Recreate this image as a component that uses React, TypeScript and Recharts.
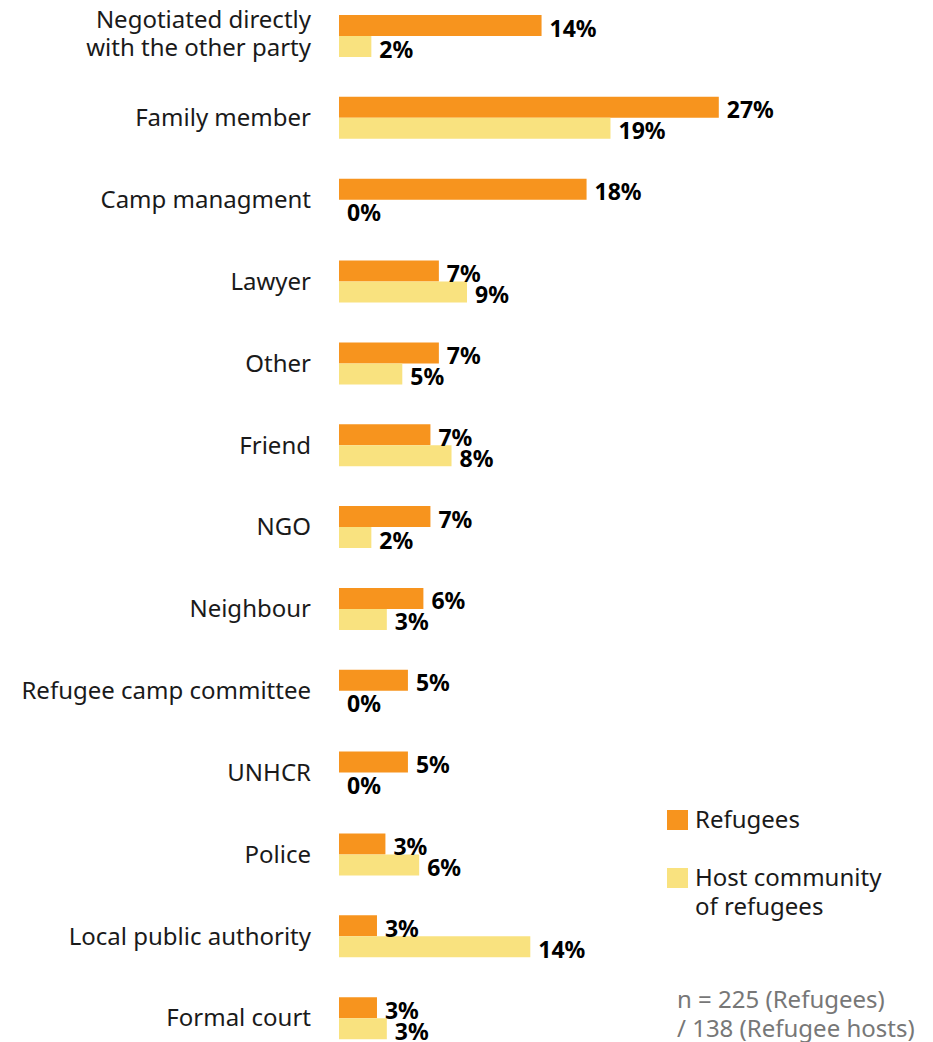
import React from "react";
import { BarChart, Bar, XAxis, YAxis } from "recharts";

// Who helped resolve the dispute, share of respondents (%)
const categories = [
  "Negotiated directly\nwith the other party",
  "Family member",
  "Camp managment",
  "Lawyer",
  "Other",
  "Friend",
  "NGO",
  "Neighbour",
  "Refugee camp committee",
  "UNHCR",
  "Police",
  "Local public authority",
  "Formal court",
];
const refugees = [14.4, 27.0, 17.6, 7.1, 7.1, 6.5, 6.5, 6.0, 4.9, 4.9, 3.3, 2.7, 2.7];
const hosts = [2.3, 19.3, 0, 9.1, 4.5, 8.0, 2.3, 3.4, 0, 0, 5.7, 13.6, 3.4];

const ORANGE = "#F7941E";
const YELLOW = "#F9E27F";
const FONT = "'Noto Sans', 'Open Sans', sans-serif";

const data = categories.map((name, i) => ({
  name,
  refugees: refugees[i],
  hosts: hosts[i],
}));

const CategoryTick = (props: any) => {
  const { x, y, payload } = props;
  const lines = String(payload.value).split("\n");
  const lh = 28;
  const start = y - ((lines.length - 1) * lh) / 2 - (lines.length > 1 ? 2 : 0);
  return (
    <text x={x} y={start} textAnchor="end" fontFamily={FONT} fontSize={24} fill="#1a1a1a">
      {lines.map((l, i) => (
        <tspan key={i} x={x} y={start + i * lh} dy="0.35em">
          {l}
        </tspan>
      ))}
    </text>
  );
};

const ValueLabel = (props: any) => {
  const { x, y, width, height, value } = props;
  const vb = props.viewBox || {};
  const bx = Number(x ?? vb.x ?? 0);
  const by = Number(y ?? vb.y ?? 0);
  const bw = Number(width ?? vb.width ?? 0);
  const bh = Number(height ?? vb.height ?? 0);
  return (
    <text
      x={bx + Math.max(bw, 0) + 8}
      y={by + bh / 2 + 2}
      dominantBaseline="central"
      fontFamily={FONT}
      fontSize={23}
      fontWeight={700}
      fill="#000"
    >
      {`${Math.round(Number(value))}%`}
    </text>
  );
};

const legendItems = [
  { color: ORANGE, lines: ["Refugees"] },
  { color: YELLOW, lines: ["Host community", "of refugees"] },
];

export default function App() {
  return (
    <div style={{ position: "absolute", left: 0, top: 0, width: 933, height: 1042, overflow: "hidden", background: "#fff" }}>
      <div style={{ position: "absolute", left: 0, top: -5 }}>
        <BarChart
          width={933}
          height={1064}
          data={data}
          layout="vertical"
          margin={{ top: 0, right: 172, bottom: 0, left: 0 }}
          barGap={0}
          barSize={21}
        >
          <XAxis type="number" domain={[0, 30]} hide />
          <YAxis
            type="category"
            dataKey="name"
            width={339}
            axisLine={false}
            tickLine={false}
            tickSize={0}
            tickMargin={28}
            interval={0}
            tick={<CategoryTick />}
          />
          <Bar dataKey="refugees" fill={ORANGE} minPointSize={0.01} isAnimationActive={false} label={<ValueLabel />} />
          <Bar dataKey="hosts" fill={YELLOW} minPointSize={0.01} isAnimationActive={false} label={<ValueLabel />} />
        </BarChart>
      </div>

      {legendItems.map((item, i) => (
        <div
          key={i}
          style={{ position: "absolute", left: 667, top: 810 + i * 58, display: "flex", alignItems: "flex-start" }}
        >
          <div style={{ width: 21, height: 20, background: item.color }} />
          <div
            style={{
              marginLeft: 7,
              marginTop: -6,
              fontFamily: FONT,
              fontSize: 24,
              lineHeight: "29px",
              color: "#1a1a1a",
            }}
          >
            {item.lines.map((l, j) => (
              <div key={j}>{l}</div>
            ))}
          </div>
        </div>
      ))}

      <div
        style={{
          position: "absolute",
          left: 677,
          top: 984,
          fontFamily: FONT,
          fontSize: 24,
          lineHeight: "29px",
          color: "#777",
        }}
      >
        <div>n = 225 (Refugees)</div>
        <div>/ 138 (Refugee hosts)</div>
      </div>
    </div>
  );
}
